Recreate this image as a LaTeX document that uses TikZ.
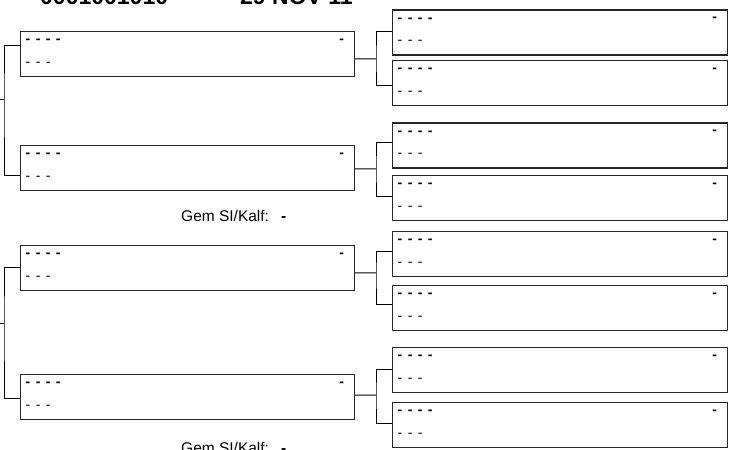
\documentclass[tikz,border=0pt]{standalone}
\usepackage{fontspec}
\setmainfont{Liberation Sans}
\newcommand\dfour{-\hspace{5.4bp}-\hspace{5.4bp}-\hspace{5.4bp}-}
\newcommand\dthree{-\hspace{5.4bp}-\hspace{5.4bp}-}
\newcommand\mkbox[4]{%
  \node[box, minimum width=#4] (#1) at (#2,#3) {};
  \node[dd, font=\fontsize{14bp}{14bp}\selectfont\bfseries] (#1a) at ([xshift=5.5bp,yshift=-10.5bp]#1.north west) {\dfour};
  \node[dd] (#1b) at ([xshift=5.5bp,yshift=-33bp]#1.north west) {\dthree};
  \node[dd, anchor=center, font=\fontsize{14bp}{14bp}\selectfont\bfseries] (#1c) at ([xshift=-13.5bp,yshift=-10bp]#1.north east) {-};
}
\begin{document}
\begin{tikzpicture}[x=1bp,y=-1bp,
  box/.style={draw=black!85, line width=1.1bp, minimum height=45bp, anchor=north west, inner sep=0pt},
  dd/.style={anchor=west, inner sep=0pt, font=\fontsize{14bp}{14bp}\selectfont},
  wire/.style={draw=black, line width=1bp},
  hdr/.style={anchor=base west, inner sep=0pt, font=\fontsize{23bp}{23bp}\selectfont\bfseries},
  gem/.style={anchor=base west, inner sep=0pt, font=\fontsize{15.5bp}{16bp}\selectfont}]
\useasboundingbox (0,0) rectangle (731,450);
\clip (0,0) rectangle (731,450);
% header (cut off at top)
\node[hdr] (h1) at (40,5) {0001001010};
\node[hdr] (h2) at (240,5) {29 NOV 11};
% left boxes
\mkbox{A}{20}{31}{334bp}
\mkbox{B}{20}{145}{334bp}
\mkbox{C}{20}{245}{334bp}
\mkbox{D}{20}{374}{334bp}
% right boxes
\mkbox{R1}{392}{9.5}{335bp}
\mkbox{R2}{392}{60}{335bp}
\mkbox{R3}{392}{122.5}{335bp}
\mkbox{R4}{392}{175}{335bp}
\mkbox{R5}{392}{231}{335bp}
\mkbox{R6}{392}{285}{335bp}
\mkbox{R7}{392}{347}{335bp}
\mkbox{R8}{392}{402}{335bp}
% Gem labels
\node[gem] (g1) at (181,221.5) {Gem SI/Kalf:\hspace{12bp}\textbf{-}};
\node[gem] (g2) at (181,453) {Gem SI/Kalf:\hspace{12bp}\textbf{-}};
% left brackets
\coordinate (L1) at (0,100);
\coordinate (L2) at (0,324);
\draw[wire] ([yshift=-15bp]A.north west) -| (4,100) |- ([yshift=-31bp]B.north west);
\draw[wire] (L1) -- (4,100);
\draw[wire] ([yshift=-23bp]C.north west) -| (4,324) |- ([yshift=-24bp]D.north west);
\draw[wire] (L2) -- (4,324);
% right brackets
\coordinate (jA) at (376,59);
\coordinate (jB) at (376,169);
\coordinate (jC) at (376,273);
\coordinate (jD) at (376,395);
\draw[wire] ([yshift=-28bp]A.north east) -- (jA);
\draw[wire] ([yshift=-22.5bp]R1.north west) -| (jA) |- ([yshift=-26bp]R2.north west);
\draw[wire] ([yshift=-24bp]B.north east) -- (jB);
\draw[wire] ([yshift=-20.5bp]R3.north west) -| (jB) |- ([yshift=-22bp]R4.north west);
\draw[wire] ([yshift=-28bp]C.north east) -- (jC);
\draw[wire] ([yshift=-21bp]R5.north west) -| (jC) |- ([yshift=-20bp]R6.north west);
\draw[wire] ([yshift=-21bp]D.north east) -- (jD);
\draw[wire] ([yshift=-22bp]R7.north west) -| (jD) |- ([yshift=-21bp]R8.north west);
\end{tikzpicture}
\end{document}
